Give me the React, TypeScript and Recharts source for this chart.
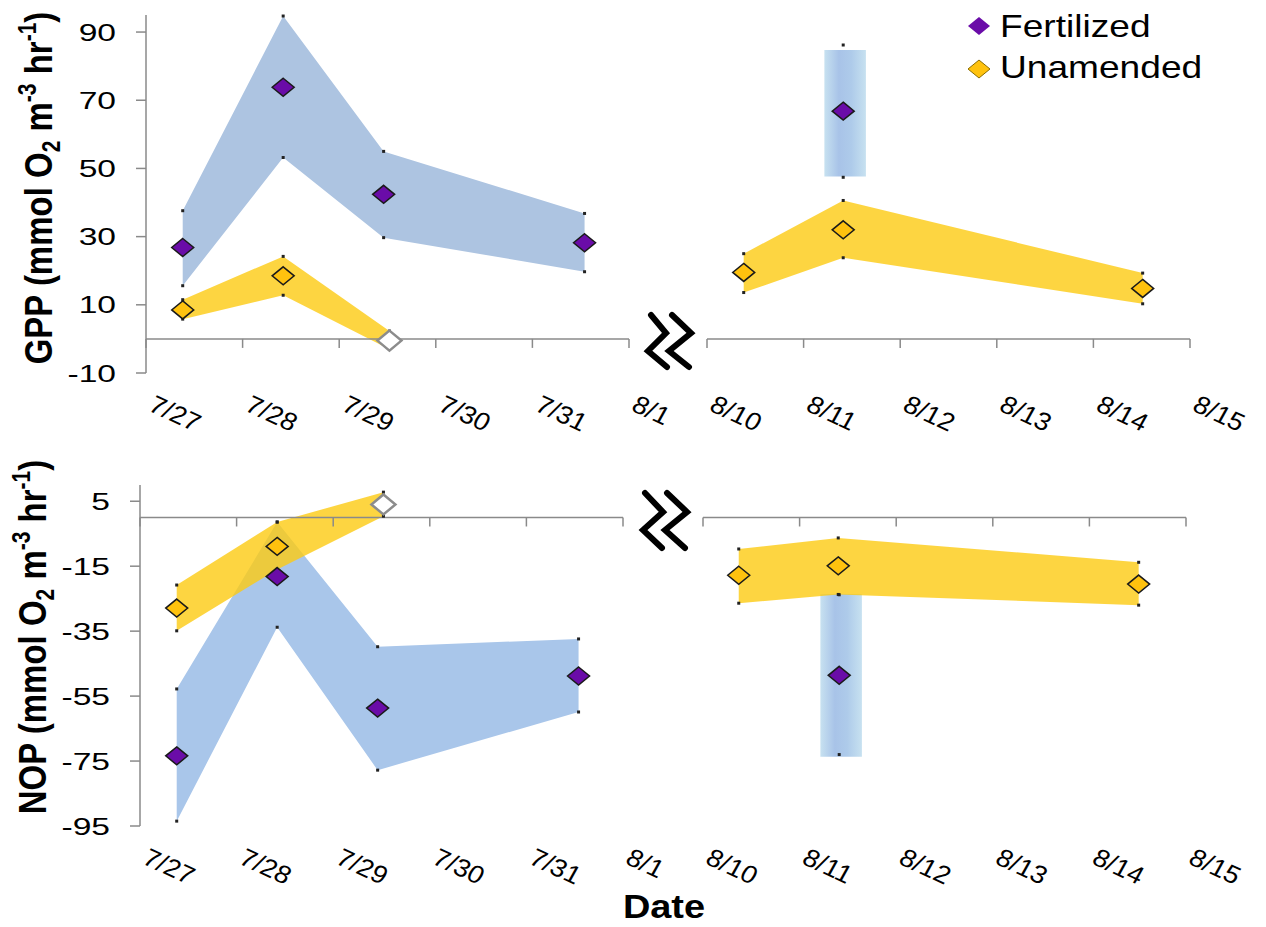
import {
  Area,
  ComposedChart,
  Legend,
  ReferenceArea,
  ReferenceLine,
  Scatter,
  XAxis,
  YAxis,
} from "recharts";

// ---- data (x = days after first tick of each segment) ----
const earlyLabels = ["7/27", "7/28", "7/29", "7/30", "7/31", "8/1"];
const lateLabels = ["8/10", "8/11", "8/12", "8/13", "8/14", "8/15"];
const dayTicks = [0, 1, 2, 3, 4, 5];

const gppTicks = [-10, 10, 30, 50, 70, 90];
const nopTicks = [-95, -75, -55, -35, -15, 5];

// GPP, 7/27 - 8/1
const gppFertX = [0.38, 1.42, 2.46, 4.54];
const gppFert = [26.8, 73.8, 42.4, 28.2];
const gppFertLo = [15.6, 53.2, 29.7, 19.7];
const gppFertHi = [37.6, 94.7, 55.0, 36.8];
const gppUnamX = [0.38, 1.42, 2.52];
const gppUnam = [8.5, 18.5, -0.5];
const gppUnamLo = [5.8, 12.8, -3.0];
const gppUnamHi = [11.5, 24.2, 2.3];
const gppUnamHollow = [false, false, true];

// GPP, 8/10 - 8/15
const gppFertLateX = [1.41];
const gppFertLate = [66.8];
const gppFertLateLo = [47.4];
const gppFertLateHi = [86.2];
const gppBoxX = [1.43];
const gppBoxLo = [47.6];
const gppBoxHi = [84.7];
const gppUnamLateX = [0.38, 1.41, 4.51];
const gppUnamLate = [19.5, 32.0, 14.8];
const gppUnamLateLo = [13.6, 23.8, 10.3];
const gppUnamLateHi = [25.0, 40.6, 19.3];

// NOP, 7/27 - 8/1
const nopFertX = [0.38, 1.42, 2.46, 4.54];
const nopFert = [-73.4, -18.2, -58.7, -48.8];
const nopFertLo = [-93.5, -33.8, -77.8, -59.9];
const nopFertHi = [-52.8, -1.4, -39.8, -37.4];
const nopUnamX = [0.38, 1.42, 2.52];
const nopUnam = [-27.9, -8.9, 4.0];
const nopUnamLo = [-34.9, -16.0, 0.4];
const nopUnamHi = [-20.8, -1.4, 7.8];
const nopUnamHollow = [false, false, true];

// NOP, 8/10 - 8/15
const nopFertLateX = [1.41];
const nopFertLate = [-48.6];
const nopFertLateLo = [-73.0];
const nopFertLateHi = [-23.8];
const nopBoxX = [1.43];
const nopBoxLo = [-73.7];
const nopBoxHi = [-23.6];
const nopUnamLateX = [0.37, 1.4, 4.51];
const nopUnamLate = [-17.8, -14.9, -20.5];
const nopUnamLateLo = [-26.4, -23.7, -27.0];
const nopUnamLateHi = [-9.7, -6.3, -13.8];

const legendNames = ["Fertilized", "Unamended"];

// ---- styles ----
const FONT = "Arial, 'Liberation Sans', sans-serif";
const PURPLE = "#6a0ca8";
const GOLD = "#ffc20e";
const AXIS = "#8a8a8a";
const YELLOW_BAND = "#fcca11";
const BOX_HALF = 0.215;

type Pt = { x: number; y: number; hollow?: boolean };

const band = (xs: number[], lo: number[], hi: number[]) =>
  xs.map((x, i) => ({ x, lo: lo[i], hi: hi[i] }));
const pts = (xs: number[], v: number[], hollow?: boolean[]): Pt[] =>
  xs.map((x, i) => ({ x, y: v[i], hollow: hollow ? hollow[i] : false }));
const ends = (xs: number[], lo: number[], hi: number[]): Pt[] =>
  xs.flatMap((x, i) => [
    { x, y: lo[i] },
    { x, y: hi[i] },
  ]);

const diamond = (cx: number, cy: number, hw: number, hh: number) =>
  `${cx},${cy - hh} ${cx + hw},${cy} ${cx},${cy + hh} ${cx - hw},${cy}`;

const fertShape = (p: any) => (
  <polygon points={diamond(p.cx, p.cy, 11, 9)} fill={PURPLE} stroke="#1a1a1a" strokeWidth={1.5} />
);
const unamShape = (p: any) =>
  p.payload && p.payload.hollow ? (
    <polygon points={diamond(p.cx, p.cy, 12, 10)} fill="#fff" stroke="#8c8c8c" strokeWidth={2.5} />
  ) : (
    <polygon points={diamond(p.cx, p.cy, 11, 9)} fill={GOLD} stroke="#1a1a1a" strokeWidth={1.5} />
  );
const endShape = (p: any) => <rect x={p.cx - 1.5} y={p.cy - 1.5} width={3} height={3} fill="#222" />;

function LegendBox() {
  return (
    <svg width={320} height={95} style={{ display: "block" }}>
      {legendNames.map((name, i) => (
        <g key={name}>
          <polygon
            points={diamond(19, 26 + i * 43, 11, 9)}
            fill={i === 0 ? PURPLE : GOLD}
            stroke={i === 0 ? "none" : "#8a6d00"}
            strokeWidth={1}
          />
          <text
            transform={`translate(40,${37 + i * 41}) scale(1.16,1)`}
            fontFamily={FONT}
            fontSize={32}
            fill="#000"
          >
            {name}
          </text>
        </g>
      ))}
    </svg>
  );
}

interface SegProps {
  left: number;
  top: number;
  width: number;
  height: number;
  margin: { top: number; right: number; bottom: number; left: number };
  yDomain: [number, number];
  yTicks: number[];
  yAxisWidth?: number;
  labels: string[];
  blue: string;
  fertBand: { x: number; lo: number; hi: number }[];
  unamBand: { x: number; lo: number; hi: number }[];
  fertPts: Pt[];
  unamPts: Pt[];
  endPts: Pt[];
  box?: { x: number; lo: number; hi: number };
  gradId: string;
  legend?: boolean;
}

const XH = 60;

function Segment(s: SegProps) {
  const plotH = s.height - s.margin.top - s.margin.bottom - XH;
  const plotBottom = s.margin.top + plotH;
  const zeroY = s.margin.top + (s.yDomain[1] / (s.yDomain[1] - s.yDomain[0])) * plotH;
  const showY = s.yAxisWidth !== undefined;

  const xTick = (p: any) => {
    const label = s.labels[p.index] ?? "";
    return (
      <g>
        <line x1={p.x} x2={p.x} y1={zeroY} y2={zeroY + 9} stroke={AXIS} strokeWidth={1.5} />
        <text
          transform={`translate(${p.x + 1},${plotBottom + 37}) scale(1.1,1) rotate(27)`}
          fontFamily={FONT}
          fontSize={25}
          fill="#000"
        >
          {label}
        </text>
      </g>
    );
  };

  const yTick = (p: any) => (
    <text
      transform={`translate(${p.x},${p.y + 8.5}) scale(1.4,1)`}
      textAnchor="end"
      fontFamily={FONT}
      fontSize={24}
      fill="#000"
    >
      {p.payload.value}
    </text>
  );

  return (
    <div style={{ position: "absolute", left: s.left, top: s.top }}>
      <ComposedChart width={s.width} height={s.height} margin={s.margin}>
        <defs>
          <linearGradient id={s.gradId} x1="0" y1="0" x2="1" y2="0">
            <stop offset="0%" stopColor="#c7e1f0" />
            <stop offset="35%" stopColor="#a8c3e8" />
            <stop offset="65%" stopColor="#aecbea" />
            <stop offset="100%" stopColor="#c7e1f0" />
          </linearGradient>
        </defs>
        <XAxis
          type="number"
          dataKey="x"
          domain={[0, 5]}
          ticks={dayTicks}
          interval={0}
          height={XH}
          axisLine={false}
          tickLine={false}
          tick={xTick}
        />
        <YAxis
          type="number"
          dataKey="y"
          domain={s.yDomain}
          ticks={s.yTicks}
          interval={0}
          hide={!showY}
          width={s.yAxisWidth ?? 0}
          axisLine={{ stroke: AXIS, strokeWidth: 1.5 }}
          tickLine={{ stroke: AXIS, strokeWidth: 1.5 }}
          tickSize={10}
          tickMargin={20}
          tick={yTick}
        />
        <ReferenceLine y={0} stroke={AXIS} strokeWidth={1.5} />
        {s.box && (
          <ReferenceArea
            x1={s.box.x - BOX_HALF}
            x2={s.box.x + BOX_HALF}
            y1={s.box.lo}
            y2={s.box.hi}
            fill={`url(#${s.gradId})`}
            fillOpacity={1}
            stroke="none"
          />
        )}
        {s.fertBand.length > 1 && (
          <Area
            data={s.fertBand}
            dataKey={(d: any) => [d.lo, d.hi]}
            type="linear"
            stroke="none"
            fill={s.blue}
            fillOpacity={1}
            dot={false}
            activeDot={false}
            isAnimationActive={false}
          />
        )}
        <Area
          data={s.unamBand}
          dataKey={(d: any) => [d.lo, d.hi]}
          type="linear"
          stroke="none"
          fill={YELLOW_BAND}
          fillOpacity={0.8}
          dot={false}
          activeDot={false}
          isAnimationActive={false}
        />
        <Scatter data={s.endPts} shape={endShape} isAnimationActive={false} />
        <Scatter data={s.unamPts} shape={unamShape} isAnimationActive={false} />
        <Scatter data={s.fertPts} shape={fertShape} isAnimationActive={false} />
        {s.legend && (
          <Legend
            layout="vertical"
            align="center"
            verticalAlign="middle"
            wrapperStyle={{ position: "absolute", left: 320, top: 0, width: 320, height: 95 }}
            content={() => <LegendBox />}
          />
        )}
      </ComposedChart>
    </div>
  );
}

function Titles() {
  const sub = 21;
  const title = (name: string, x: number, y: number) => (
    <text
      transform={`translate(${x},${y}) scale(1.2,1) rotate(-90)`}
      textAnchor="middle"
      fontFamily={FONT}
      fontWeight="bold"
      fontSize={33}
      fill="#000"
    >
      <tspan>{name} (mmol O</tspan>
      <tspan fontSize={sub} dy={7}>2</tspan>
      <tspan dy={-7}> m</tspan>
      <tspan fontSize={sub} dy={-13}>-3</tspan>
      <tspan dy={13}> hr</tspan>
      <tspan fontSize={sub} dy={-13}>-1</tspan>
      <tspan dy={13}>)</tspan>
    </text>
  );
  const brk = (pts1: string, pts2: string) => (
    <g fill="none" stroke="#000" strokeWidth={6} strokeLinecap="round" strokeLinejoin="miter">
      <polyline points={pts1} />
      <polyline points={pts2} />
    </g>
  );
  return (
    <svg
      width={1266}
      height={927}
      style={{ position: "absolute", left: 0, top: 0, pointerEvents: "none" }}
    >
      {title("GPP", 52, 188)}
      {title("NOP", 46, 637)}
      <text
        transform="translate(664,918) scale(1.15,1)"
        textAnchor="middle"
        fontFamily={FONT}
        fontWeight="bold"
        fontSize={33}
        fill="#000"
      >
        Date
      </text>
      {brk("651,315 666,333 648,351 667,367", "672,315 691,333 669,351 689,367")}
      {brk("645,493 663,512 643,530 662,548", "667,493 687,512 665,530 685,548")}
    </svg>
  );
}

export default function App() {
  return (
    <div
      style={{
        position: "absolute",
        left: 0,
        top: 0,
        width: 1266,
        height: 927,
        background: "#fff",
        overflow: "hidden",
      }}
    >
      {/* GPP */}
      <Segment
        left={0}
        top={0}
        width={700}
        height={440}
        margin={{ top: 15, right: 71, bottom: 7, left: 0 }}
        yDomain={[-10, 95]}
        yTicks={gppTicks}
        yAxisWidth={146}
        labels={earlyLabels}
        blue="#adc4e1"
        fertBand={band(gppFertX, gppFertLo, gppFertHi)}
        unamBand={band(gppUnamX, gppUnamLo, gppUnamHi)}
        fertPts={pts(gppFertX, gppFert)}
        unamPts={pts(gppUnamX, gppUnam, gppUnamHollow)}
        endPts={[...ends(gppFertX, gppFertLo, gppFertHi), ...ends(gppUnamX, gppUnamLo, gppUnamHi)]}
        gradId="gradA"
      />
      <Segment
        left={640}
        top={0}
        width={626}
        height={440}
        margin={{ top: 15, right: 76, bottom: 7, left: 67 }}
        yDomain={[-10, 95]}
        yTicks={gppTicks}
        labels={lateLabels}
        blue="#adc4e1"
        fertBand={band(gppFertLateX, gppFertLateLo, gppFertLateHi)}
        unamBand={band(gppUnamLateX, gppUnamLateLo, gppUnamLateHi)}
        fertPts={pts(gppFertLateX, gppFertLate)}
        unamPts={pts(gppUnamLateX, gppUnamLate)}
        endPts={[
          ...ends(gppFertLateX, gppFertLateLo, gppFertLateHi),
          ...ends(gppUnamLateX, gppUnamLateLo, gppUnamLateHi),
        ]}
        box={{ x: gppBoxX[0], lo: gppBoxLo[0], hi: gppBoxHi[0] }}
        gradId="gradB"
        legend
      />
      {/* NOP */}
      <Segment
        left={0}
        top={460}
        width={700}
        height={467}
        margin={{ top: 25, right: 77, bottom: 41, left: 0 }}
        yDomain={[-95, 10]}
        yTicks={nopTicks}
        yAxisWidth={140}
        labels={earlyLabels}
        blue="#a9c6ea"
        fertBand={band(nopFertX, nopFertLo, nopFertHi)}
        unamBand={band(nopUnamX, nopUnamLo, nopUnamHi)}
        fertPts={pts(nopFertX, nopFert)}
        unamPts={pts(nopUnamX, nopUnam, nopUnamHollow)}
        endPts={[...ends(nopFertX, nopFertLo, nopFertHi), ...ends(nopUnamX, nopUnamLo, nopUnamHi)]}
        gradId="gradC"
      />
      <Segment
        left={640}
        top={460}
        width={626}
        height={467}
        margin={{ top: 25, right: 80, bottom: 41, left: 63 }}
        yDomain={[-95, 10]}
        yTicks={nopTicks}
        labels={lateLabels}
        blue="#a9c6ea"
        fertBand={band(nopFertLateX, nopFertLateLo, nopFertLateHi)}
        unamBand={band(nopUnamLateX, nopUnamLateLo, nopUnamLateHi)}
        fertPts={pts(nopFertLateX, nopFertLate)}
        unamPts={pts(nopUnamLateX, nopUnamLate)}
        endPts={[
          ...ends(nopFertLateX, nopFertLateLo, nopFertLateHi),
          ...ends(nopUnamLateX, nopUnamLateLo, nopUnamLateHi),
        ]}
        box={{ x: nopBoxX[0], lo: nopBoxLo[0], hi: nopBoxHi[0] }}
        gradId="gradD"
      />
      <Titles />
    </div>
  );
}
